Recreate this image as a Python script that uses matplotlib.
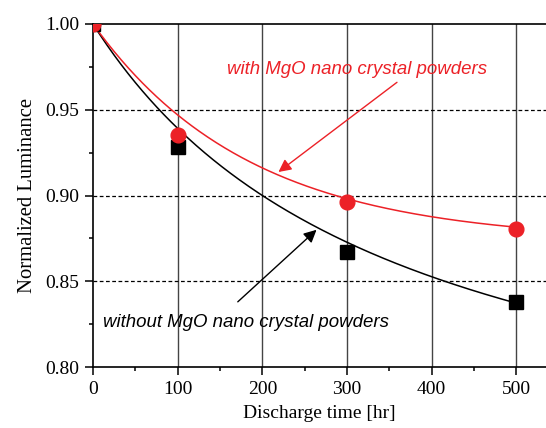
import numpy as np
import matplotlib
matplotlib.use("Agg")
import matplotlib.pyplot as plt
from matplotlib.patches import FancyArrowPatch
from matplotlib.ticker import MultipleLocator

# measured data
time_hr = [0, 100, 300, 500]
lum_without = [1.000, 0.928, 0.867, 0.838]
lum_with = [1.000, 0.935, 0.896, 0.8805]

# fitted decay curves
# without MgO: y = 1 - A*x/(x+t)
fit_without = dict(A=0.28, t=360.0)
# with MgO: y = y0 + A*exp(-x/t)
fit_with = dict(y0=0.873, A=0.127, t=185.0)

x_ticks = [0, 100, 200, 300, 400, 500]
y_ticks = [0.80, 0.85, 0.90, 0.95, 1.00]
y_tick_labels = ["0.80", "0.85", "0.90", "0.95", "1.00"]

label_with = "with MgO nano crystal powders"
label_without = "without MgO nano crystal powders"

RED = "#ec2127"

fig = plt.figure(figsize=(5.46, 4.28), dpi=100)
ax = fig.add_axes([93/546, 1-367/428, 1-93/546, (367-24)/428])

serif = "Liberation Serif"
sans = "Liberation Sans"

ax.set_xlim(0, 535)
ax.set_ylim(0.80, 1.00)

# grid
for xv in x_ticks[1:]:
    ax.axvline(xv, color="#444444", lw=1.0, zorder=1)
for yv in y_ticks[1:-1]:
    ax.axhline(yv, color="black", lw=0.9, ls=(0, (3, 2)), zorder=1)

xs = np.linspace(0, 500, 300)
y_without = 1 - fit_without["A"] * xs / (xs + fit_without["t"])
y_with = fit_with["y0"] + fit_with["A"] * np.exp(-xs / fit_with["t"])
ax.plot(xs, y_without, color="black", lw=1.1, zorder=3)
ax.plot(xs, y_with, color=RED, lw=1.1, zorder=3)

ax.plot(time_hr, lum_without, ls="none", marker="s", ms=9.6, color="black",
        mec="black", zorder=4)
ax.plot(time_hr, lum_with, ls="none", marker="o", ms=10.6, color=RED,
        mec=RED, zorder=5)

# annotations
ax.text(158, 0.9732, label_with, color=RED, fontsize=13.4, style="italic",
        family=sans, ha="left", va="center", zorder=6)
ax.text(12, 0.8262, label_without, color="black", fontsize=13.4, style="italic",
        family=sans, ha="left", va="center", zorder=6)

a1 = FancyArrowPatch((359, 0.966), (219, 0.9137), arrowstyle="-|>",
                     mutation_scale=19, color=RED, lw=1.0, zorder=6,
                     shrinkA=0, shrinkB=0)
ax.add_patch(a1)
a2 = FancyArrowPatch((171, 0.838), (264, 0.880), arrowstyle="-|>",
                     mutation_scale=19, color="black", lw=1.0, zorder=6,
                     shrinkA=0, shrinkB=0)
ax.add_patch(a2)

# axes styling
ax.spines["right"].set_visible(False)
for s in ["left", "bottom", "top"]:
    ax.spines[s].set_linewidth(1.2)
ax.set_xticks(x_ticks)
ax.set_yticks(y_ticks)
ax.set_yticklabels(y_tick_labels)
ax.xaxis.set_minor_locator(MultipleLocator(50))
ax.yaxis.set_minor_locator(MultipleLocator(0.025))
ax.tick_params(which="major", direction="out", length=6, width=1.1,
               labelsize=14, pad=4)
ax.tick_params(which="minor", direction="out", length=3, width=1.1)
ax.tick_params(top=False, right=False, which="both")
for lab in ax.get_xticklabels() + ax.get_yticklabels():
    lab.set_fontfamily(serif)

ax.set_xlabel("Discharge time [hr]", fontsize=14, family=serif, labelpad=5)
ax.set_ylabel("Normalized Luminance", fontsize=14.9, family=serif, labelpad=6)

fig.savefig("out.png", dpi=100)
